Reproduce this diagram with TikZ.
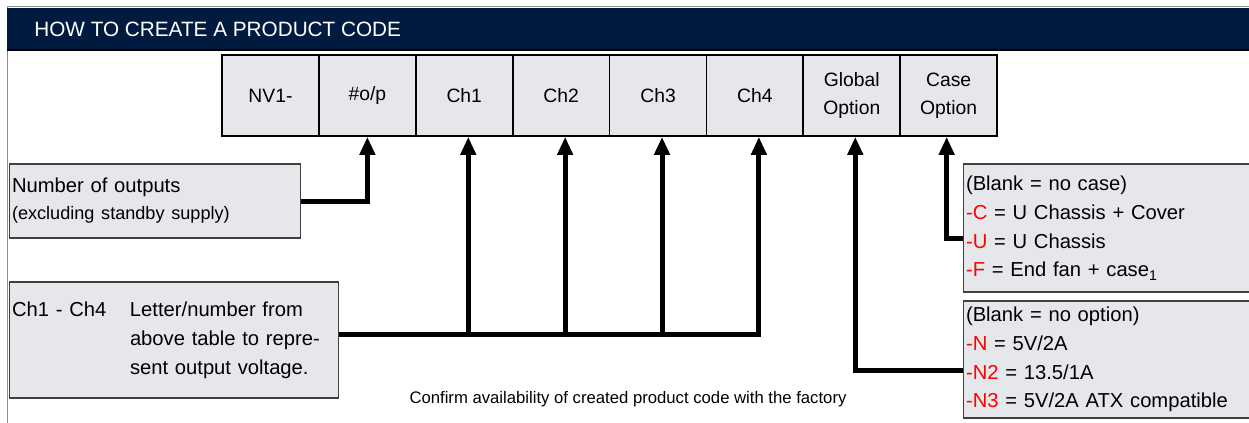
\documentclass[tikz,border=0pt]{standalone}
\usepackage{fontspec}
\setmainfont{Liberation Sans}
\usetikzlibrary{arrows.meta,positioning}
\definecolor{HeadNavy}{HTML}{001B3F}
\definecolor{BoxGrey}{HTML}{E6E7EA}
\definecolor{CodeRed}{HTML}{FF0000}
\tikzstyle{codebox} = [rectangle, 
minimum width=1.94cm, 
minimum height=1.62cm, 
align=center, 
draw=black, line width=1pt, 
fill=BoxGrey, 
font=\fontsize{11}{15.9}\selectfont]
\tikzstyle{infobox} = [rectangle, 
draw=black!75, line width=0.6pt, 
fill=BoxGrey, 
align=left, 
inner xsep=0.06cm, 
font=\fontsize{11.5}{16.4}\selectfont]
\tikzstyle{arrow} = [line width=0.1cm,-{Triangle[length=0.36cm,width=0.3cm]}]
\newcommand{\redopt}[1]{{\color{CodeRed}#1}}

\begin{document}
\begin{tikzpicture}[x=0.02cm, y=-0.02cm, node distance=1.938cm]
                \useasboundingbox (0,0) rectangle (1249,423);
                % frame and title bar
                \draw[black!45, line width=0.5pt] (1249,6) -- (7,6) -- (7,423);
                \fill[HeadNavy] (7,8) rectangle (1249,50);
                \draw[black, line width=0.8pt] (7,50) -- (1249,50);
                \node[anchor=west, text=white, inner sep=0pt, font=\fontsize{11.8}{13}\selectfont] (title) at (34,29) {HOW TO CREATE A PRODUCT CODE};

                % code boxes
                \node[codebox] (c1) at (270.5,95.5) {NV1-};
                \node[codebox, right of=c1] (c2) {\#o/p};
                \node[codebox, right of=c2] (c3) {Ch1};
                \node[codebox, right of=c3] (c4) {Ch2};
                \node[codebox, right of=c4] (c5) {Ch3};
                \node[codebox, right of=c5] (c6) {Ch4};
                \node[codebox, right of=c6] (c7) {Global\\Option};
                \node[codebox, right of=c7] (c8) {Case\\Option};

                % explanation boxes
                \node[infobox, text width=5.72cm, minimum height=1.48cm] (numbox) at (155,201) {Number of outputs\\[-1pt]{\fontsize{10.3}{12}\selectfont (excluding standby supply)}};
                \node[infobox, text width=6.48cm, minimum height=2.32cm] (chbox) at (174,340) {\makebox[2.36cm][l]{Ch1 - Ch4}Letter/number from\\\hspace*{2.36cm}above table to repre-\\\hspace*{2.36cm}sent output voltage.};
                \node[infobox, text width=5.66cm, minimum height=2.56cm] (casebox) at (1107.5,228) {(Blank = no case)\\
                \redopt{-C} = U Chassis + Cover\\
                \redopt{-U} = U Chassis\\
                \redopt{-F} = End fan + case\textsubscript{1}};
                \node[infobox, text width=5.66cm, minimum height=2.34cm] (globbox) at (1107.5,359.5) {(Blank = no option)\\
                \redopt{-N} = 5V/2A\\
                \redopt{-N2} = 13.5/1A\\
                \redopt{-N3} = 5V/2A ATX compatible};
                \node[font=\fontsize{9.5}{11}\selectfont] (note) at (628,399) {Confirm availability of created product code with the factory};

                % connectors
                \coordinate (bus) at ([yshift=0.12cm]chbox.east);
                \draw[arrow] (numbox.east) -| (c2.south);
                \draw[arrow] (bus) -| ([xshift=0.08cm]c6.south);
                \foreach \n in {c3,c4,c5}
                    \draw[arrow] ([xshift=0.08cm]\n.south |- bus) -- ([xshift=0.08cm]\n.south);
                \draw[arrow] ([yshift=-0.21cm]globbox.west) -| ([xshift=0.07cm]c7.south);
                \draw[arrow] ([yshift=-0.2cm]casebox.west) -| ([xshift=-0.04cm]c8.south);
\end{tikzpicture}
\end{document}
